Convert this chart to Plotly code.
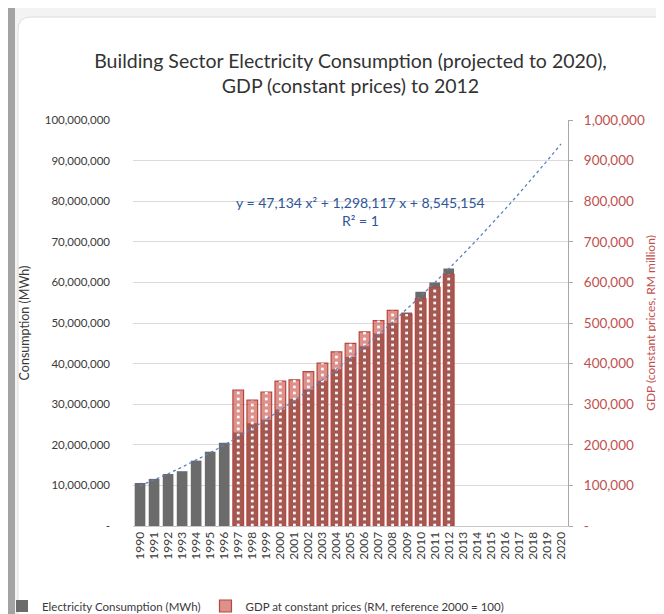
import plotly.graph_objects as go

# ---------------- data ----------------
years = [str(y) for y in range(1990, 2021)]
cons_years = [str(y) for y in range(1990, 2013)]
consumption = [10.6e6, 11.6e6, 12.8e6, 13.5e6, 16.1e6, 18.3e6, 20.5e6, 23.0e6, 25.3e6,
               26.2e6, 28.7e6, 31.3e6, 33.6e6, 35.8e6, 38.6e6, 41.6e6, 44.3e6, 47.4e6,
               50.0e6, 52.6e6, 57.7e6, 60.0e6, 63.4e6]
gdp_years = [str(y) for y in range(1997, 2013)]
gdp = [335e3, 310e3, 330e3, 357e3, 360e3, 380e3, 401e3, 429e3, 450e3, 478e3,
       506e3, 531e3, 522e3, 560e3, 588e3, 620e3]
# trendline coefficients as printed on the chart (x = 1 .. 31)
coef_a, coef_b, coef_c = 47134, 1298117, 8545154
trend_x = list(range(1, len(years) + 1))
trend = [coef_a * x * x + coef_b * x + coef_c for x in trend_x]

left_ticks = [i * 10_000_000 for i in range(11)]
left_text = ["-"] + [f"{v:,}" for v in left_ticks[1:]]
right_ticks = [i * 100_000 for i in range(11)]
right_text = ["-"] + [f"{v:,}" for v in right_ticks[1:]]

title_text = ("Building Sector Electricity Consumption (projected to 2020),<br>"
              "GDP (constant prices) to 2012")
eq_text = "y = 47,134 x² + 1,298,117 x + 8,545,154<br>R² = 1"

# ---------------- geometry ----------------
W, H = 664, 614
L, R, T, B = 125, 104, 112, 96
PW, PH = W - L - R, H - T - B


def px(x):
    return (x - L) / PW


def py(y):
    return (H - B - y) / PH


FONT = "Lato"
GRAY_TXT = "#3a3a3a"
RED = "#c0504d"

fig = go.Figure()
fig.add_trace(go.Bar(
    x=cons_years, y=consumption, name="Electricity Consumption (MWh)",
    marker=dict(color="#6b6b6b", line=dict(width=0)), width=0.76, yaxis="y"))
fig.add_trace(go.Bar(
    x=gdp_years, y=gdp, name="GDP at constant prices (RM, reference 2000 = 100)",
    marker=dict(color="rgba(198,78,68,0.62)", line=dict(color="#b8463e", width=1.2)),
    width=0.76, yaxis="y2"))
fig.add_trace(go.Bar(
    x=gdp_years, y=gdp, showlegend=False, hoverinfo="skip",
    marker=dict(color="rgba(0,0,0,0)", line=dict(width=0),
                pattern=dict(shape="-", fgcolor="white", bgcolor="rgba(0,0,0,0)",
                             size=6, solidity=0.45, fgopacity=0.95)),
    width=0.2, yaxis="y2"))
fig.add_trace(go.Scatter(
    x=years, y=trend, mode="lines", showlegend=False, hoverinfo="skip",
    line=dict(color="#5b7fbf", width=1.3, dash="dot"), yaxis="y3"))

# card background / frame
card = (f"M {px(10)},{py(614+20)} L {px(10)},{py(22)} Q {px(10)},{py(9)} {px(23)},{py(9)} "
        f"L {px(664+20)},{py(9)} L {px(664+20)},{py(614+20)} Z")
shapes = [
    dict(type="rect", xref="paper", yref="paper", x0=px(0), x1=px(664), y0=py(0), y1=py(614),
         fillcolor="#f3f3f3", line=dict(width=0), layer="below"),
    dict(type="path", xref="paper", yref="paper", path=card, fillcolor="white",
         line=dict(color="#dcdcdc", width=1), layer="below"),
    dict(type="rect", xref="paper", yref="paper", x0=px(0), x1=px(7), y0=py(0), y1=py(614),
         fillcolor="#a3a3a3", line=dict(width=0), layer="below"),
]

fig.update_layout(
    width=W, height=H,
    margin=dict(l=L, r=R, t=T, b=B, autoexpand=False),
    paper_bgcolor="white", plot_bgcolor="rgba(0,0,0,0)",
    barmode="overlay",
    font=dict(family=FONT, color=GRAY_TXT),
    title=dict(text=title_text, x=0.5, xref="paper", xanchor="center",
               y=1 - 60 / H, yanchor="middle",
               font=dict(family=FONT, size=19.5, color="#333333")),
    xaxis=dict(type="category", categoryorder="array", categoryarray=years,
               tickmode="array", tickvals=years, ticktext=years,
               range=[-0.5, len(years) - 0.5], tickangle=-90,
               tickfont=dict(size=12, color=GRAY_TXT), showgrid=False,
               showline=True, linecolor="#c8c8c8", linewidth=1, ticks=""),
    yaxis=dict(range=[0, 100_000_000], tickvals=left_ticks, ticktext=left_text,
               tickfont=dict(size=11.5, color=GRAY_TXT), showgrid=True,
               gridcolor="#dadada", gridwidth=1, zeroline=False, showline=False,
               ticks="", ticklabelstandoff=22,
               title=dict(text="Consumption (MWh)", standoff=12,
                          font=dict(size=12.5, color=GRAY_TXT))),
    yaxis2=dict(range=[0, 1_000_000], tickvals=right_ticks, ticktext=right_text,
                overlaying="y", side="right", showgrid=False, zeroline=False,
                showline=True, linecolor="#a8a8a8", linewidth=1.2,
                ticks="outside", ticklen=4, tickcolor="#a8a8a8",
                tickfont=dict(size=13.5, color=RED), ticklabelstandoff=8,
                title=dict(text="GDP (constant prices, RM million)", standoff=2,
                           font=dict(size=12, color=RED))),
    yaxis3=dict(range=[0, 100_000_000], overlaying="y", visible=False),
    legend=dict(orientation="h", x=px(-6), xanchor="left", y=py(598), yanchor="middle",
                font=dict(size=11.5, color=GRAY_TXT), itemwidth=30,
                bgcolor="rgba(0,0,0,0)", traceorder="normal"),
    annotations=[dict(text=eq_text, xref="paper", yref="paper", x=px(352), y=py(203),
                      xanchor="center", yanchor="middle", showarrow=False,
                      font=dict(size=14, color="#2f5597", family=FONT))],
    shapes=shapes,
)

fig.write_html("out.html")
